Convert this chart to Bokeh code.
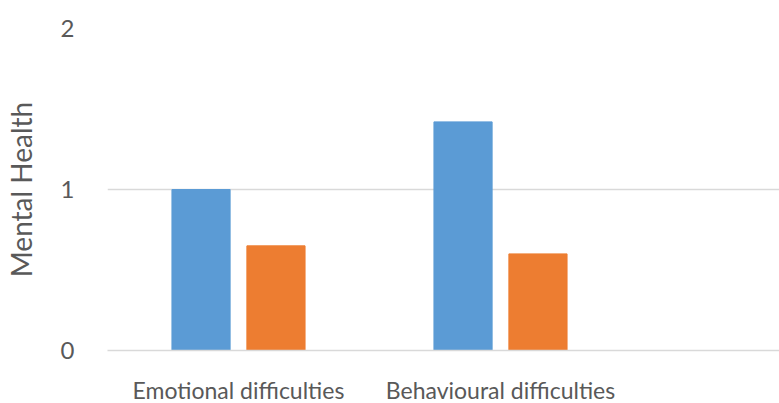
from bokeh.plotting import figure
from bokeh.models import Range1d, FixedTicker, ColumnDataSource
from bokeh.embed import file_html
from bokeh.resources import INLINE

categories = ["Emotional difficulties", "Behavioural difficulties"]
series_a = [1.00, 1.42]
series_b = [0.65, 0.60]
y_ticks = [0, 1, 2]

FONT = "Lato"
TXT = "#595959"

centers = [i + 0.5 for i in range(len(categories))]
bar_w = 0.222
offset = 0.143

src_a = ColumnDataSource(dict(x=[c - offset for c in centers], top=series_a))
src_b = ColumnDataSource(dict(x=[c + offset for c in centers], top=series_b))

p = figure(frame_width=673, frame_height=322, output_backend="svg", toolbar_location=None,
           x_range=Range1d(0, 673 / 262), y_range=Range1d(0, 2))
p.min_border_left = 97
p.min_border_right = 0
p.min_border_top = 28
p.min_border_bottom = 0
p.outline_line_color = None
p.background_fill_color = "white"

p.vbar(x="x", top="top", bottom=0, width=bar_w, source=src_a,
       fill_color="#5B9BD5", line_color="#5B9BD5")
p.vbar(x="x", top="top", bottom=0, width=bar_w, source=src_b,
       fill_color="#ED7D31", line_color="#ED7D31")

p.xgrid.grid_line_color = None
p.ygrid.ticker = FixedTicker(ticks=y_ticks)
p.ygrid.grid_line_color = "#D9D9D9"
p.ygrid.grid_line_width = 1.5

p.yaxis.ticker = FixedTicker(ticks=y_ticks)
p.yaxis.axis_line_color = None
p.yaxis.major_tick_line_color = None
p.yaxis.minor_tick_line_color = None
p.yaxis.major_label_standoff = 27
p.yaxis.major_label_text_font = FONT
p.yaxis.major_label_text_font_size = "24px"
p.yaxis.major_label_text_color = TXT
p.yaxis.axis_label = "Mental Health"
p.yaxis.axis_label_text_font = FONT
p.yaxis.axis_label_text_font_size = "28px"
p.yaxis.axis_label_text_font_style = "normal"
p.yaxis.axis_label_text_color = TXT
p.yaxis.axis_label_standoff = 20

p.xaxis.ticker = FixedTicker(ticks=centers)
p.xaxis.major_label_overrides = {c: lab for c, lab in zip(centers, categories)}
p.xaxis.axis_line_color = "#D9D9D9"
p.xaxis.axis_line_width = 1.5
p.xaxis.major_tick_line_color = None
p.xaxis.minor_tick_line_color = None
p.xaxis.major_label_standoff = 19
p.xaxis.major_label_text_font = FONT
p.xaxis.major_label_text_font_size = "23px"
p.xaxis.major_label_text_color = TXT

open("out.html", "w").write(file_html(p, INLINE))
